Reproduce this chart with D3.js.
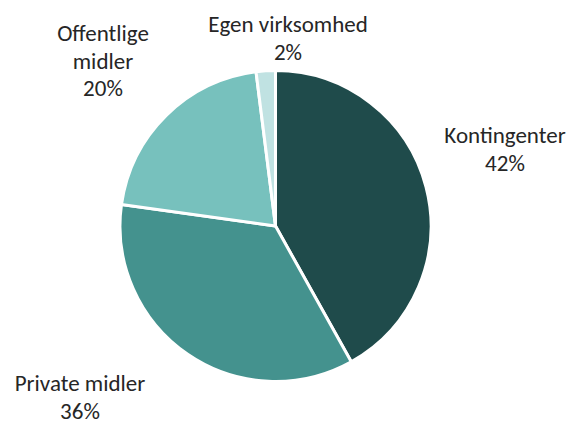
<!DOCTYPE html>
<html>
<head>
<meta charset="utf-8">
<script src="https://cdn.jsdelivr.net/npm/d3@7"></script>
<style>
  html, body { margin: 0; padding: 0; background: #fff; }
  svg text { font-family: Carlito, Calibri, "Open Sans", sans-serif; fill: #262626; }
</style>
</head>
<body>
<div id="chart"></div>
<script>
(function () {
  'use strict';

  var categories = ['Kontingenter', 'Private midler', 'Offentlige midler', 'Egen virksomhed'];
  var shares = [41.9, 35.3, 20.8, 2.0];
  var pctLabels = ['42%', '36%', '20%', '2%'];
  var labelLines = [['Kontingenter'], ['Private midler'], ['Offentlige', 'midler'], ['Egen virksomhed']];
  var colors = ['#1f4b4b', '#44928e', '#77c1bd', '#c0e2e2'];

  var width = 571, height = 422;
  var cx = 275.5, cy = 226, r = 155.5;

  // label anchors: center x and first baseline, one per slice
  var labelSpots = [[505, 143], [80, 391], [103, 41], [288, 32]];
  var lineH = 27.5;

  var data = categories.map(function (c, i) {
    return { name: c, value: shares[i], lines: labelLines[i].concat([pctLabels[i]]), color: colors[i], spot: labelSpots[i] };
  });

  var svg = d3.select('#chart').append('svg').attr('width', width).attr('height', height);
  var g = svg.append('g').attr('transform', 'translate(' + cx + ',' + cy + ')');

  var pie = d3.pie().sort(null).value(function (d) { return d.value; });
  var arc = d3.arc().innerRadius(0).outerRadius(r);

  g.selectAll('path.slice').data(pie(data)).enter().append('path')
    .attr('class', 'slice')
    .attr('d', arc)
    .attr('fill', function (d) { return d.data.color; })
    .attr('stroke', '#fff')
    .attr('stroke-width', 3)
    .attr('stroke-linejoin', 'round');

  // Labels
  svg.selectAll('text.lbl').data(data).enter().append('text')
    .attr('class', 'lbl')
    .attr('text-anchor', 'middle')
    .attr('font-size', 23)
    .each(function (d) {
      var t = d3.select(this);
      d.lines.forEach(function (s, i) {
        t.append('tspan').attr('x', d.spot[0]).attr('y', d.spot[1] + i * lineH).text(s);
      });
    });
})();
</script>
</body>
</html>
